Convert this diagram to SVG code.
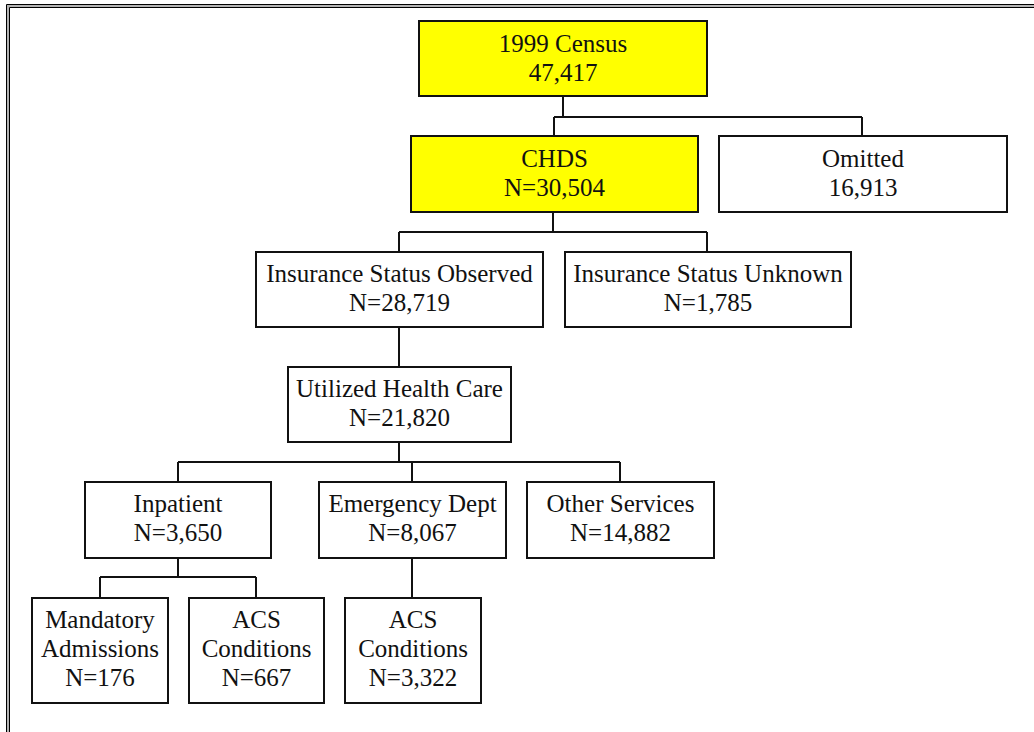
<svg xmlns="http://www.w3.org/2000/svg" width="1034" height="732" viewBox="0 0 1034 732">
<style>
  .box { fill: #ffffff; stroke: #111111; stroke-width: 2; }
  .hl { fill: #ffff00; }
  .t { font-family: "Liberation Serif", "Times New Roman", serif; font-size: 25px; fill: #111111; text-anchor: middle; }
  .conn { fill: none; stroke: #111111; stroke-width: 2; }
</style>
<rect x="0" y="0" width="1034" height="732" fill="#ffffff"/>
<g id="frame" fill="none">
  <path d="M6.5,732 V4.5 H1034" stroke="#000000" stroke-width="1"/>
  <path d="M8,732 V6 H1034" stroke="#b4b4b4" stroke-width="2"/>
  <path d="M9.5,732 V7.5 H1034" stroke="#000000" stroke-width="1"/>
</g>
<g id="connectors" class="conn">
  <path d="M563,96 V117 M554,117 H862 M554,117 V136 M862,117 V136"/>
  <path d="M553,212 V232 M399,232 H707 M399,232 V252 M707,232 V252"/>
  <path d="M399,327 V367"/>
  <path d="M399,442 V462 M178,462 H620 M178,462 V482 M412,462 V482 M620,462 V482"/>
  <path d="M178,558 V577 M100,577 H256 M100,577 V598 M256,577 V598"/>
  <path d="M412,558 V598"/>
</g>
<g id="census">
  <rect class="box hl" x="419" y="21" width="288" height="75"/>
  <text class="t" x="563" y="52">1999 Census</text>
  <text class="t" x="563" y="81">47,417</text>
</g>
<g id="chds">
  <rect class="box hl" x="411" y="136" width="287" height="76"/>
  <text class="t" x="554.5" y="167">CHDS</text>
  <text class="t" x="554.5" y="196">N=30,504</text>
</g>
<g id="omitted">
  <rect class="box" x="719" y="136" width="288" height="76"/>
  <text class="t" x="863" y="167">Omitted</text>
  <text class="t" x="863" y="196">16,913</text>
</g>
<g id="ins-observed">
  <rect class="box" x="256" y="252" width="287" height="75"/>
  <text class="t" x="399.5" y="282">Insurance Status Observed</text>
  <text class="t" x="399.5" y="311">N=28,719</text>
</g>
<g id="ins-unknown">
  <rect class="box" x="565" y="252" width="286" height="75"/>
  <text class="t" x="708" y="282">Insurance Status Unknown</text>
  <text class="t" x="708" y="311">N=1,785</text>
</g>
<g id="utilized">
  <rect class="box" x="288" y="367" width="223" height="75"/>
  <text class="t" x="399.5" y="397">Utilized Health Care</text>
  <text class="t" x="399.5" y="426">N=21,820</text>
</g>
<g id="inpatient">
  <rect class="box" x="85" y="482" width="186" height="76"/>
  <text class="t" x="178" y="512">Inpatient</text>
  <text class="t" x="178" y="541">N=3,650</text>
</g>
<g id="emergency">
  <rect class="box" x="319" y="482" width="187" height="76"/>
  <text class="t" x="412.5" y="512">Emergency Dept</text>
  <text class="t" x="412.5" y="541">N=8,067</text>
</g>
<g id="other">
  <rect class="box" x="527" y="482" width="187" height="76"/>
  <text class="t" x="620.5" y="512">Other Services</text>
  <text class="t" x="620.5" y="541">N=14,882</text>
</g>
<g id="mandatory">
  <rect class="box" x="32" y="598" width="136" height="105"/>
  <text class="t" x="100" y="628">Mandatory</text>
  <text class="t" x="100" y="657">Admissions</text>
  <text class="t" x="100" y="686">N=176</text>
</g>
<g id="acs-inpatient">
  <rect class="box" x="189" y="598" width="135" height="105"/>
  <text class="t" x="256.5" y="628">ACS</text>
  <text class="t" x="256.5" y="657">Conditions</text>
  <text class="t" x="256.5" y="686">N=667</text>
</g>
<g id="acs-emergency">
  <rect class="box" x="345" y="598" width="136" height="105"/>
  <text class="t" x="413" y="628">ACS</text>
  <text class="t" x="413" y="657">Conditions</text>
  <text class="t" x="413" y="686">N=3,322</text>
</g>
</svg>
